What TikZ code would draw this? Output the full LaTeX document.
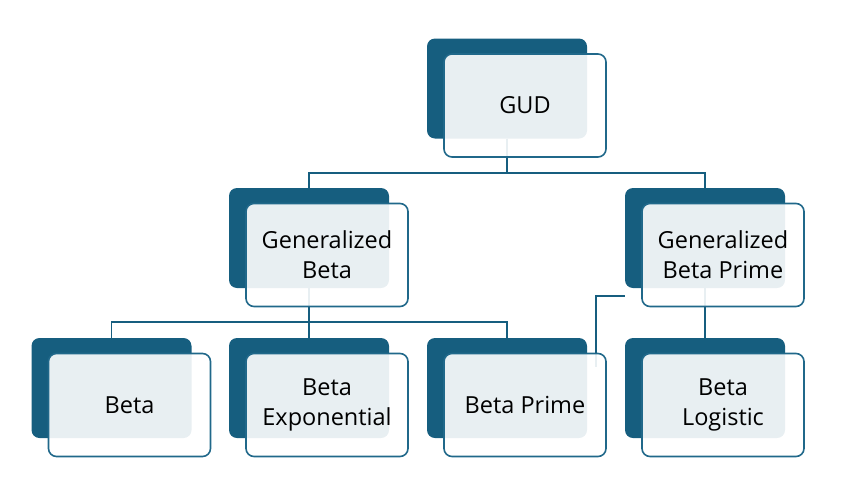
\documentclass[tikz,border=0pt]{standalone}
\usepackage{fontspec}
\setmainfont{Open Sans}
\definecolor{dteal}{RGB}{22,94,127}
\definecolor{lteal}{RGB}{32,104,138}
\tikzset{
    back/.style={fill=dteal, rounded corners=8, minimum width=160, minimum height=100, inner sep=0},
    front/.style={draw=lteal, line width=1.6, fill=white, fill opacity=0.9, text opacity=1,
        rounded corners=8, minimum width=162, minimum height=103, inner sep=0, align=center,
        font=\fontsize{23.5}{30}\selectfont},
    conn/.style={draw=dteal, line width=1.8},
}
\begin{document}
\begin{tikzpicture}[x=1pt,y=-1pt]
    \useasboundingbox (0,0) rectangle (860,493);
    %back boxes
    \node[back] (gudb) at (507,88.5) {};
    \node[back] (gbb) at (309,238) {};
    \node[back] (gbpb) at (705,238) {};
    \node[back] (betab) at (111.5,388) {};
    \node[back] (bexpb) at (309,388) {};
    \node[back] (bpb) at (507,388) {};
    \node[back] (blogb) at (705,388) {};
    %connectors
    \draw[conn] (gudb.south) -- ++(0,34) coordinate (gudj);
    \draw[conn] (gudj) -| (gbb.north);
    \draw[conn] (gudj) -| (gbpb.north);
    \draw[conn] (gbb.south) -- ++(0,34) coordinate (gbj);
    \draw[conn] (gbj) -| (betab.north);
    \draw[conn] (gbj) -- (bexpb.north);
    \draw[conn] (gbj) -| (bpb.north);
    \draw[conn] (gbpb.south) -- (blogb.north);
    \draw[conn] ([yshift=-8]gbpb.south west) -| ([shift={(9,29)}]bpb.north east);
    %front boxes
    \node[front] (gud) at ([shift={(18,17)}]gudb) {GUD};
    \node[front] (gb) at ([shift={(18,17)}]gbb) {Generalized\\Beta};
    \node[front] (gbp) at ([shift={(18,17)}]gbpb) {Generalized\\Beta Prime};
    \node[front] (beta) at ([shift={(18,17)}]betab) {Beta};
    \node[front] (bexp) at ([shift={(18,17)}]bexpb) {Beta\\Exponential};
    \node[front] (bp) at ([shift={(18,17)}]bpb) {Beta Prime};
    \node[front] (blog) at ([shift={(18,17)}]blogb) {Beta\\Logistic};
\end{tikzpicture}
\end{document}
